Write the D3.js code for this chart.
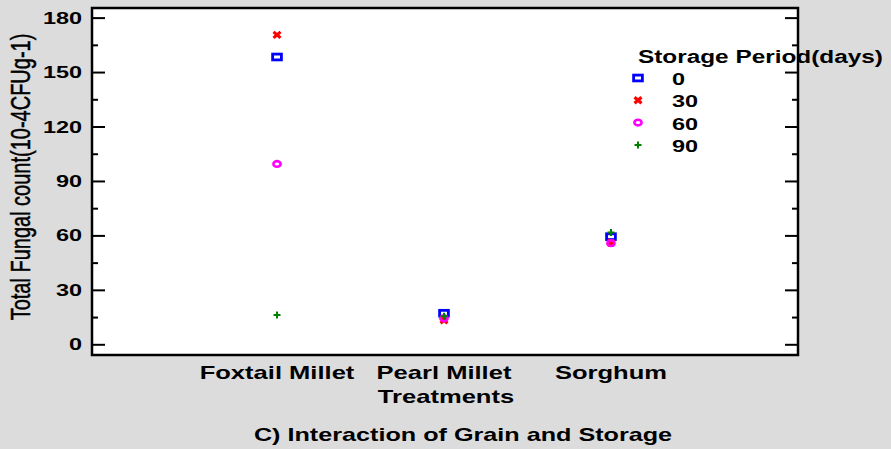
<!DOCTYPE html>
<html>
<head>
<meta charset="utf-8">
<title>Interaction of Grain and Storage</title>
<script src="https://cdnjs.cloudflare.com/ajax/libs/d3/7.8.5/d3.min.js"></script>
<style>
  html, body { margin: 0; padding: 0; background: #dcdcdc; }
  svg { display: block; }
  text { font-family: "Liberation Sans", Arial, sans-serif; fill: #000; }
</style>
</head>
<body>
<svg id="chart" width="891" height="449"></svg>
<script>
// data
var treatments = ["Foxtail Millet", "Pearl Millet", "Sorghum"];
var periods = ["0", "30", "60", "90"];
var day0  = [158.3, 17.1, 59.3];
var day30 = [170.5, 13.2, 56.0];
var day60 = [99.4, 14.3, 55.7];
var day90 = [16.1, 15.4, 61.6];
var yTicks = [0, 30, 60, 90, 120, 150, 180];
var yMinor = [15, 45, 75, 105, 135, 165];

var series = [day0, day30, day60, day90];
var colors = ["#0000ff", "#ff0000", "#ff00ff", "#008000"];
var shapes = ["square", "cross", "circle", "plus"];

var plot = { left: 92, top: 8, right: 798, bottom: 355 };
var stretch = 1.38;   // the original picture is stretched sideways

var svg = d3.select("#chart");

var x = d3.scaleLinear().domain([-1.108, 3.12]).range([plot.left, plot.right]);
var y = d3.scaleLinear().domain([-5.9, 185.3]).range([plot.bottom, plot.top]);

// text helper: stretched horizontally around its anchor point
function label(g, str, px, py, size, anchor, sx) {
  return g.append("text")
    .attr("transform", "translate(" + px + "," + py + ") scale(" + (sx || stretch) + ",1)")
    .attr("text-anchor", anchor || "middle")
    .style("font-size", size + "px")
    .style("font-weight", "bold")
    .text(str);
}

// plot area
svg.append("rect")
  .attr("x", plot.left).attr("y", plot.top)
  .attr("width", plot.right - plot.left).attr("height", plot.bottom - plot.top)
  .attr("fill", "#fff");

// ticks on both sides, pointing in
var axisL = d3.axisRight(y).tickValues(yTicks).tickSize(13).tickFormat("");
var axisLm = d3.axisRight(y).tickValues(yMinor).tickSize(6).tickFormat("");
var axisR = d3.axisLeft(y).tickValues(yTicks).tickSize(13).tickFormat("");
var axisRm = d3.axisLeft(y).tickValues(yMinor).tickSize(6).tickFormat("");

[[axisL, plot.left], [axisLm, plot.left], [axisR, plot.right], [axisRm, plot.right]].forEach(function(a) {
  var g = svg.append("g").attr("transform", "translate(" + a[1] + ",0)").call(a[0]);
  g.select(".domain").remove();
  g.selectAll("line").attr("stroke", "#000").attr("stroke-width", 2);
});

// tick labels
var tl = svg.append("g");
yTicks.forEach(function(v) {
  label(tl, v, 82, y(v) + 6, 17, "end");
});

// frame
svg.append("rect")
  .attr("x", plot.left).attr("y", plot.top)
  .attr("width", plot.right - plot.left).attr("height", plot.bottom - plot.top)
  .attr("fill", "none").attr("stroke", "#000").attr("stroke-width", 2.5);

// markers
function marker(g, shape, color) {
  if (shape == "square") {
    g.append("rect").attr("x", -4.4).attr("y", -2.9).attr("width", 8.8).attr("height", 5.8)
      .attr("fill", "none").attr("stroke", color).attr("stroke-width", 2.8);
  } else if (shape == "cross") {
    g.append("path").attr("d", "M-3.5,-3 L3.5,3 M-3.5,3 L3.5,-3")
      .attr("stroke", color).attr("stroke-width", 3.2).attr("fill", "none");
  } else if (shape == "circle") {
    g.append("ellipse").attr("rx", 3.6).attr("ry", 2.8)
      .attr("fill", "none").attr("stroke", color).attr("stroke-width", 2.6);
  } else {
    g.append("path").attr("d", "M-3.5,0 L3.5,0 M0,-3.5 L0,3.5")
      .attr("stroke", color).attr("stroke-width", 2).attr("fill", "none");
  }
}

var pts = svg.append("g");
series.forEach(function(vals, s) {
  vals.forEach(function(v, i) {
    var g = pts.append("g").attr("transform", "translate(" + x(i) + "," + y(v) + ")");
    marker(g, shapes[s], colors[s]);
  });
});

// category labels
var cl = svg.append("g");
treatments.forEach(function(t, i) {
  label(cl, t, x(i), 379, 18, "middle", 1.42);
});
label(svg, "Treatments", 446, 403, 18, "middle", 1.42);
label(svg, "C) Interaction of Grain and Storage", 463, 441, 18, "middle", 1.40);

// y axis title
svg.append("text")
  .attr("transform", "translate(30,177) scale(" + stretch + ",1) rotate(-90)")
  .attr("text-anchor", "middle")
  .style("font-size", "20px")
  .style("stroke", "#000").style("stroke-width", 0.35)
  .text("Total Fungal count(10-4CFUg-1)");

// legend
var lg = svg.append("g");
var lt = label(lg, "Storage Period(days)", 638, 63, 18, "start", 1);
var ltw = lt.node().getComputedTextLength();
lt.attr("transform", "translate(638,63) scale(" + (245 / ltw) + ",1)");
periods.forEach(function(p, i) {
  var yy = 78 + i * 22.3;
  var g = lg.append("g").attr("transform", "translate(638," + yy + ")");
  marker(g, shapes[i], colors[i]);
  label(lg, p, 672, yy + 7, 17, "start");
});
</script>
</body>
</html>
